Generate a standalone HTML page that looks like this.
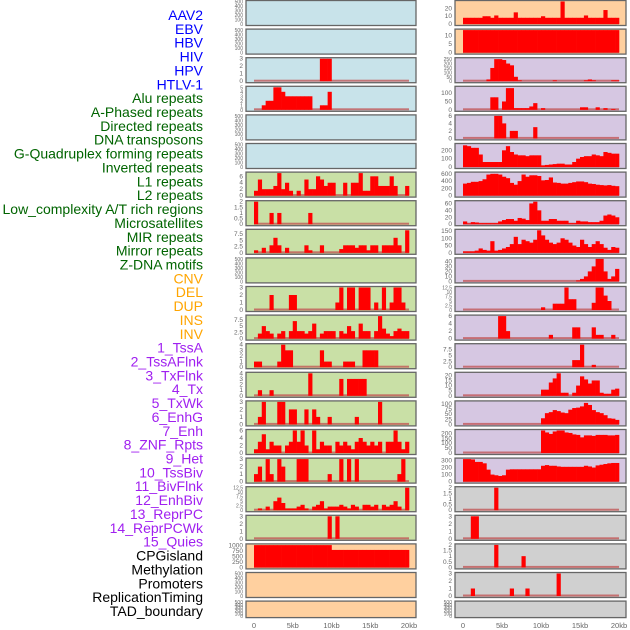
<!DOCTYPE html>
<html><head><meta charset="utf-8"><style>
html,body{margin:0;padding:0;background:#fff;width:630px;height:630px;overflow:hidden}
svg{display:block;font-family:"Liberation Sans",sans-serif}
</style></head><body>
<svg id="chart" width="630" height="630"></svg>
<script>
// ---- labels ----
const trackLabels = ["AAV2","EBV","HBV","HIV","HPV","HTLV-1","Alu repeats","A-Phased repeats","Directed repeats","DNA transposons","G-Quadruplex forming repeats","Inverted repeats","L1 repeats","L2 repeats","Low_complexity A/T rich regions","Microsatellites","MIR repeats","Mirror repeats","Z-DNA motifs","CNV","DEL","DUP","INS","INV","1_TssA","2_TssAFlnk","3_TxFlnk","4_Tx","5_TxWk","6_EnhG","7_Enh","8_ZNF_Rpts","9_Het","10_TssBiv","11_BivFlnk","12_EnhBiv","13_ReprPC","14_ReprPCWk","15_Quies","CPGisland","Methylation","Promoters","ReplicationTiming","TAD_boundary"];
const labelColors = ["#0000ff","#0000ff","#0000ff","#0000ff","#0000ff","#0000ff","#006400","#006400","#006400","#006400","#006400","#006400","#006400","#006400","#006400","#006400","#006400","#006400","#006400","#ffa500","#ffa500","#ffa500","#ffa500","#ffa500","#a020f0","#a020f0","#a020f0","#a020f0","#a020f0","#a020f0","#a020f0","#a020f0","#a020f0","#a020f0","#a020f0","#a020f0","#a020f0","#a020f0","#a020f0","#000","#000","#000","#000","#000"];
const xTickValues = [0,5,10,15,20];
const xTickLabels = ["0","5kb","10kb","15kb","20kb"];

// ---- data: 40 bins of 0.5 kb each ----
const E = [];
const L3 = [0,0,0,0,0,0,0,0,0,0,0,0,0,0,0,0,0,3,3,3];
const L4 = [0,0,1,2,2,5,5,4,3,3,3,3,3,3,3,0,0,1,1,4];
const L7 = [1.5,5,2,2,2,3,7,2,4,1.5,0,1.5,0,5,2,2,6,5,3,4,4,0,0,4,0,4,4,7,1.5,1.5,6,6,3,3,3,6,3,0,0,3];
const L8 = [2,0,0,0,1,0,1,0,0,0,0,0,0,0,1];
const L9 = [1,0,2,0,3,6,3,0,2,0,0,0,0,3,1,0,0,3,0,0,0,0,1.5,3,3,3,2,3,3,1,3,3,0,3,3,3,6,3,0,9];
const L11 = [0,0,0,0,2,0,0,0,0,2,2,0,0,0,0,0,0,0,0,0,0,1,3,0,3,3,0,3,3,3,0,1,0,3,0,1,3,3,1];
const L12 = [0,2,5,3,2,0,2,3,0,3,7,3,3,2,3,6,0,2,3,3,3,0,3,2,5,3,0,6,3,3,0,3,9,4,2,1,3,4,3,3];
const L13 = [1,1,0,0,0,0,1,4,3,3,0,0,0,0,0,0,0,3,1,1,0,0,0,1,1,1,0,0,3,3,3,3];
const L14 = [0,1,0,0,1,0,0,0,0,0,0,0,0,0,4,0,0,0,0,0,0,0,3,0,3,3,3,3,3];
const L15 = [0,1,3,0,0,0,3,3,0,2,2,0,0,2,0,2,1,0,0,1,0,0,0,0,0,0,1,0,0,0,0,0,3];
const L16 = [1,3,5,1,3,2,2,0,2,3,6,3,6,2,0,6,1,3,2,2,0,3,2,3,2,1,3,4,3,2,3,2,3,0,3,3,6,3,1,3];
const L17 = [1,2,0,3,1,0,3,2,0,0,0,3,3,3,0,0,0,0,0,1,0,0,3,0,3,0,3,0,0,0,0,0,0,0,0,0,0,1,3];
const L18 = [0,1,0,2,0,5,7,4,1,1,1,2,3,1,0,2,3,5,1,2,2,2,3,2,1,3,2,0,3,3,2,3,0,3,2,3,5,2,0,12.5];
const L19 = [0,0,0,0,0,0,0,0,0,0,0,0,0,0,0,0,0,0,0,3,0,3];
const L20 = [1020,1020,1020,1020,1020,1020,1020,1020,1020,1020,1020,1020,1020,1020,1020,1020,1020,1020,1020,1020,800,800,800,800,800,800,800,800,800,800,800,800,800,800,800,800,800,800,800,800];
const R1 = [8,8,8,8,8,10,10,8,11,8,8,8,8,15,8,8,8,8,8,8,10,8,8,8,8,29,8,8,8,8,8,11,8,8,8,8,18,8,8,8];
const R2 = [13,13,13,13,13,13,13,13,13,13,13,13,13,13,13,13,13,13,13,13,13,13,13,13,13,13,13,13,13,13,13,13,13,13,13,13,13,13,13,13];
const R3 = [0,0,0,0,0,0,20,150,250,250,240,200,180,50,10,0,0,0,0,0,0,0,0,10,0,0,0,0,0,0,0,10,20,10,0,0,0,0,10,10];
const R4 = [0,0,0,0,0,0,0,75,75,0,50,130,130,10,10,10,10,20,40,0,10,0,0,0,0,0,0,0,0,0,15,15,0,0,15,0,10,0,5];
const R5 = [0,0,0,0,0,0,0,0,6,6,4,0,2,2,0,0,0,0,3];
const R6 = [260,250,230,230,150,60,60,60,60,60,200,250,180,150,140,140,130,140,140,140,20,25,30,35,40,40,30,30,60,100,120,130,130,150,140,130,180,170,160,160];
const R7 = [330,350,380,380,400,450,580,600,600,580,520,480,350,300,400,580,520,560,560,540,420,430,500,360,350,330,330,350,370,390,390,370,330,320,300,290,280,290,270,260];
const R8 = [8,2,6,5,3,3,3,3,3,8,12,15,15,10,18,16,12,60,65,40,10,10,15,15,10,10,10,3,3,10,8,8,6,6,6,10,25,28,25,20];
const R9 = [10,10,10,15,30,20,15,80,15,20,30,40,60,110,60,90,80,70,90,155,120,90,70,60,70,100,90,70,50,40,90,60,40,60,80,60,35,20,40,35];
const R10 = [0,0,0,0,0,0,0,0,0,0,0,0,0,0,0,0,0,0,0,0,0,0,0,0,0,0,0,0,0,2,5,10,20,30,45,45,20,5,10,25];
const R11 = [0,0,0,0,0,0,0,0,0,0,0,0,0,0,0,0,0,0,0,0,1.5,0,0,3.5,3.5,3.5,12.5,6,6,0,0,0,0,4,12.5,12.5,8,5];
const R12 = [0,0,0,0,0,0,0,0,0,6,6,2,0,0,0,0,0,0,0,0,0,0,1,0,0,0,0,0,3,3,0,0,0,3,1,1,0,0,1];
const R13 = [0,0,0,0,0,0,0,0,0,0,0,0,0,0,0,0,0,0,0,0,0,0,0,0,0,0,0,0,3,3,9.5,0,0,1];
const R14 = [0,0,0,0,0,0,0,0,0,0,0,0,0,0,0,0,0,0,0,0,6,6,13,17,22,3,3,0,3,10,19,16,12,15,15,3,2,2,6,7];
const R15 = [0,0,0,0,0,0,0,0,0,0,0,0,0,0,0,0,0,0,0,0,30,55,60,70,65,58,55,72,80,82,88,105,95,70,60,55,45,30,28,22];
const R16 = [0,0,0,0,0,0,0,0,0,0,0,0,0,0,0,0,0,0,0,0,230,210,195,220,230,230,210,205,190,185,160,180,180,175,185,185,185,180,180,185];
const R17 = [320,320,315,280,280,260,170,100,90,80,90,170,175,175,175,175,175,175,175,175,225,235,225,225,215,210,210,210,210,210,210,225,215,200,230,240,250,260,265,265];
const R18 = [0,0,0,0,0,0,0,0,2];
const R19 = [0,0,3,3];
const R20 = [0,0,0,0,0,0,0,0,2,0,0,0,0,0,0,1];
const R21 = [0,0,1,0,0,0,0,0,0,0,0,0,1,0,0,0,1,0,0,0,0,0,0,0,3];
const R22 = E;

const T500=[0,100,200,300,400,500];
const BLUE="#c8e3ea",GREEN="#c9e0a6",ORANGE="#ffd09f",PURPLE="#d6c7e2",GREY="#d0d0d0";
const leftPanels = [
 {n:"L1",d:E,bg:BLUE,ymax:500,t:T500},{n:"L2",d:E,bg:BLUE,ymax:500,t:T500},
 {n:"L3",d:L3,bg:BLUE,ymax:3,t:[0,1,2,3]},{n:"L4",d:L4,bg:BLUE,ymax:5,t:[0,1,2,3,4,5]},
 {n:"L5",d:E,bg:BLUE,ymax:500,t:T500},{n:"L6",d:E,bg:BLUE,ymax:500,t:T500},
 {n:"L7",d:L7,bg:GREEN,ymax:7,t:[0,2,4,6]},{n:"L8",d:L8,bg:GREEN,ymax:2,t:[0,0.5,1,1.5,2]},
 {n:"L9",d:L9,bg:GREEN,ymax:9,t:[0,2.5,5,7.5]},{n:"L10",d:E,bg:GREEN,ymax:500,t:T500},
 {n:"L11",d:L11,bg:GREEN,ymax:3,t:[0,1,2,3]},{n:"L12",d:L12,bg:GREEN,ymax:9,t:[0,2.5,5,7.5]},
 {n:"L13",d:L13,bg:GREEN,ymax:4,t:[0,1,2,3,4]},{n:"L14",d:L14,bg:GREEN,ymax:4,t:[0,1,2,3,4]},
 {n:"L15",d:L15,bg:GREEN,ymax:3,t:[0,1,2,3]},{n:"L16",d:L16,bg:GREEN,ymax:6,t:[0,2,4,6]},
 {n:"L17",d:L17,bg:GREEN,ymax:3,t:[0,1,2,3]},{n:"L18",d:L18,bg:GREEN,ymax:12.5,t:[0,2.5,5,7.5,10,12.5]},
 {n:"L19",d:L19,bg:GREEN,ymax:3,t:[0,1,2,3]},{n:"L20",d:L20,bg:ORANGE,ymax:1030,t:[0,250,500,750,1000]},
 {n:"L21",d:E,bg:ORANGE,ymax:500,t:T500},{n:"L22",d:E,bg:ORANGE,ymax:500,t:T500}];
const rightPanels = [
 {n:"R1",d:R1,bg:ORANGE,ymax:29,t:[0,10,20]},{n:"R2",d:R2,bg:ORANGE,ymax:13,t:[0,5,10]},
 {n:"R3",d:R3,bg:PURPLE,ymax:255,t:[0,50,100,150,200,250]},{n:"R4",d:R4,bg:PURPLE,ymax:135,t:[0,50,100]},
 {n:"R5",d:R5,bg:PURPLE,ymax:6,t:[0,2,4,6]},{n:"R6",d:R6,bg:PURPLE,ymax:270,t:[0,100,200]},
 {n:"R7",d:R7,bg:PURPLE,ymax:620,t:[0,200,400,600]},{n:"R8",d:R8,bg:PURPLE,ymax:65,t:[0,20,40,60]},
 {n:"R9",d:R9,bg:PURPLE,ymax:155,t:[0,50,100,150]},{n:"R10",d:R10,bg:PURPLE,ymax:45,t:[0,10,20,30,40]},
 {n:"R11",d:R11,bg:PURPLE,ymax:12.5,t:[0,2.5,5,7.5,10,12.5]},{n:"R12",d:R12,bg:PURPLE,ymax:6,t:[0,2,4,6]},
 {n:"R13",d:R13,bg:PURPLE,ymax:9.5,t:[0,2.5,5,7.5]},{n:"R14",d:R14,bg:PURPLE,ymax:22,t:[0,5,10,15,20]},
 {n:"R15",d:R15,bg:PURPLE,ymax:110,t:[0,25,50,75,100]},{n:"R16",d:R16,bg:PURPLE,ymax:230,t:[0,50,100,150,200]},
 {n:"R17",d:R17,bg:PURPLE,ymax:320,t:[0,100,200,300]},{n:"R18",d:R18,bg:GREY,ymax:2,t:[0,0.5,1,1.5,2]},
 {n:"R19",d:R19,bg:GREY,ymax:3,t:[0,1,2,3]},{n:"R20",d:R20,bg:GREY,ymax:2,t:[0,0.5,1,1.5,2]},
 {n:"R21",d:R21,bg:GREY,ymax:3,t:[0,1,2,3]},{n:"R22",d:R22,bg:GREY,ymax:500,t:T500}];

const NS="http://www.w3.org/2000/svg";
const svg=document.getElementById('chart');
function mk(tag,attrs,parent){const e=document.createElementNS(NS,tag);for(const k in attrs)e.setAttribute(k,attrs[k]);(parent||svg).appendChild(e);return e;}

// labels
trackLabels.forEach((t,i)=>{
  const el=mk('text',{x:203,y:15+i*13.86+5,'text-anchor':'end','font-size':14,fill:labelColors[i]});
  el.textContent=t;
  
  
});

function drawColumn(panels,left,right,x0,x20){
  const xs=kb=>x0+(x20-x0)*kb/20;
  panels.forEach((p,i)=>{
    const top=0.5+i*28.6, h=(i===21)?16.5:25;
    const g=mk('g',{});
    
    
    mk('rect',{x:left,y:top,width:right-left,height:h,fill:p.bg,stroke:'#666','stroke-width':1.3},g);
    const yTop=top+1, yBot=top+h-1.5;
    const ys=v=>yBot-(yBot-yTop)*v/p.ymax;
    const hasData=p.d.some(v=>v>0);
    if(hasData){
      const base=mk('rect',{x:xs(0),y:yBot-1.5,width:xs(20)-xs(0),height:2,fill:'#c05050',opacity:0.75},g);
      
      
    }
    p.d.forEach((v,b)=>{
      if(v<=0)return;
      const r=mk('rect',{x:xs(b*0.5),y:ys(v),width:xs(0.5)-xs(0)+0.3,height:yBot-ys(v),fill:'#ff0000'},g);
      
      
    });
    p.t.forEach(tv=>{
      const tx=mk('text',{x:left-3,y:ys(tv)+2,'text-anchor':'end','font-size':(p.t.length>=6||h<20)?5:6.5,fill:'#666'},g);
      tx.textContent=String(tv);
      
      
    });
  });
  xTickValues.forEach((v,k)=>{
    const tx=mk('text',{x:xs(v),y:628,'text-anchor':'middle','font-size':7.5,fill:'#666'});
    tx.textContent=xTickLabels[k];
    
    
  });
}
drawColumn(leftPanels,246,416,254,409);
drawColumn(rightPanels,455,626,463,619);
</script>
</body></html>
